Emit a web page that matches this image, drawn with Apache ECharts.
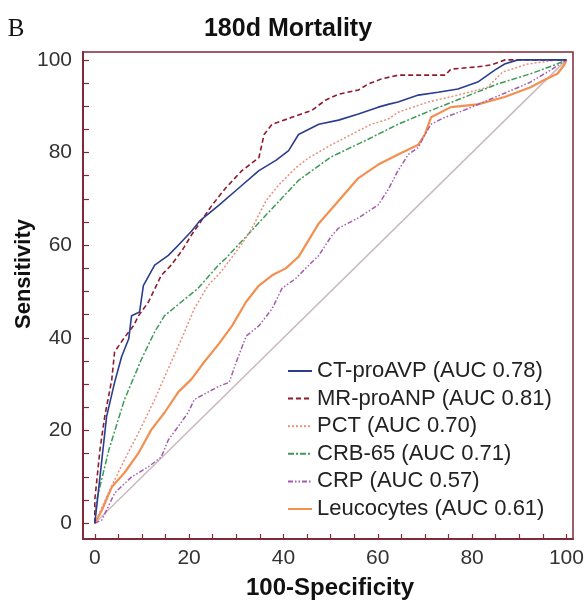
<!DOCTYPE html>
<html>
<head>
<meta charset="utf-8">
<script src="https://cdn.jsdelivr.net/npm/echarts@6/dist/echarts.min.js"></script>
<style>html,body{margin:0;padding:0;background:#fff;}#c{width:588px;height:601px;}</style>
</head>
<body>
<div id="c"></div>
<script>
// ---- data ----
const seriesNames = ['CT-proAVP (AUC 0.78)','MR-proANP (AUC 0.81)','PCT (AUC 0.70)','CRB-65 (AUC 0.71)','CRP (AUC 0.57)','Leucocytes (AUC 0.61)'];
const xTickLabels = [0,20,40,60,80,100];
const yTickLabels = [0,20,40,60,80,100];
const tickValues = [0,5,10,15,20,25,30,35,40,45,50,55,60,65,70,75,80,85,90,95,100];

const ctX = [0,0.4,2.5,4.2,5.7,7.2,7.8,9.5,10.3,12.7,15.6,17.7,20.5,22.2,26.4,30.6,34.8,38.4,41.1,43.2,47.5,51.7,55.9,60.1,62.2,64.3,68.6,72.8,77,81.2,83.3,84.8,86.9,89.7,100];
const ctY = [0,3.5,23,30.4,36,39.8,44.8,45.6,51.3,55.7,57.8,60,63,65.2,68.7,72.4,76.1,78.3,80.4,83.9,86.1,87,88.3,89.8,90.4,90.9,92.4,93,93.7,95.2,96.7,97.8,99.1,100,100];

const mrX = [0,0,1.1,2.1,3.6,4.2,6.1,7.2,8.2,9.3,11.4,14.1,16.2,18.4,20.5,24.9,27.8,31.2,34.8,35.9,37.6,41.8,46,48.9,51.7,55.9,58,60.8,64.3,74.3,75.5,81.2,84,87,100];
const mrY = [0,5,15.9,23,31,37,39.8,41.3,42.6,44.8,47.8,53.5,55.7,58.7,62.2,68.7,72.4,76.1,78.9,83.9,86.1,87.6,89.1,91.3,92.6,93.5,94.8,95.9,96.7,96.7,98,98.5,98.9,100,100];

const pctX = [0,3.2,6.3,9.3,12.7,15.8,18.4,21.1,24,26.8,31,33,36.3,39,42.6,45.4,50.2,54.4,58.6,62.2,64.3,70.7,77,83.3,86.5,91.8,98.1,100];
const pctY = [0,7.2,13.7,19.6,26.7,33.9,39.8,46.3,51.3,54.3,60,63,69.6,73,76.7,78.9,81.7,83.9,86.1,87.2,88.7,90.9,92.4,94.1,97.4,99.1,100,100];

const crbX = [0,0.4,3,6.3,9.9,12.7,14.8,18.4,21.9,26.2,27.8,36.3,43.2,50,57.4,64.3,71.3,78.5,85.4,92.4,97.5,100];
const crbY = [0,5,15.9,26.7,35.4,41.3,44.8,47.8,50.7,55.7,57.2,66.5,74,79,82.6,86.1,89.1,92,94.8,97,98.9,100];

const crpX = [0,1.5,4.2,7.8,11.4,14.1,15.6,17.7,19.8,21.1,24,26.4,28.5,30,32.1,34.8,37.6,39.7,42.6,44.7,47.5,50.2,51.7,55.9,60.1,62.2,64.3,66.5,68.6,70,71.3,74,78,85,92,97,100];
const crpY = [0,0.7,6.5,10,12.2,14.3,18,20.9,23.9,26.7,28.3,29.6,30.4,34.8,40.4,42.6,46.3,50.7,52.8,55,57.8,62,63.7,65.9,68.7,72,76.1,79.6,81.1,83.9,86.1,87.5,89,92,95,98,100];

const leuX = [0,1.5,3.6,6.3,9.3,12,14.8,17.7,20.5,23.2,26.3,29.1,32.1,34.8,37.6,40.5,43.2,47.5,51.7,55.9,60.1,64.3,68.6,70,71.3,75.5,81.2,86.9,92.4,95.4,98.1,99.6,100];
const leuY = [0,2.8,7.8,10.9,15.2,20.2,23.9,28.3,31.1,34.8,38.7,42.6,47.8,51.3,53.5,55,57.5,64.7,69.6,74.5,77.4,79.6,81.7,83.9,87.6,89.8,90.4,92,94.1,95.7,97,99,100];

const refX = [0,100];
const refY = [0,100];

// ---- build ----
const pairs = (xs, ys) => xs.map((x, i) => [x, ys[i]]);
const FONT = '"Liberation Sans", Arial, sans-serif';
const FRAME = '#7e2a3a';

const styles = [
  {color:'#2c3c8e', width:1.6, type:'solid'},
  {color:'#8e1b2e', width:1.6, type:[5,3]},
  {color:'#e8907e', width:1.5, type:[2,2]},
  {color:'#3d9a58', width:1.5, type:[6,2,2,2]},
  {color:'#a45cae', width:1.5, type:[5,2,1.5,2,1.5,2]},
  {color:'#f3904f', width:2.2, type:'solid'}
];
const dataSets = [pairs(ctX,ctY), pairs(mrX,mrY), pairs(pctX,pctY), pairs(crbX,crbY), pairs(crpX,crpY), pairs(leuX,leuY)];

const series = [{
  name:'ref', type:'line', data: pairs(refX, refY), symbol:'none', silent:true,
  lineStyle:{color:'#cbb9bd', width:1.5}, z:1
}];
seriesNames.forEach((n, i) => {
  series.push({
    name:n, type:'line', data:dataSets[i], symbol:'none',
    lineStyle:{color:styles[i].color, width:styles[i].width, type:styles[i].type},
    itemStyle:{color:styles[i].color}, z: 10 - i
  });
});

const chart = echarts.init(document.getElementById('c'), null, {renderer:'canvas'});
chart.setOption({
  animation:false,
  grid:{left:83, right:15, top:52, bottom:62, show:true, borderColor:FRAME, borderWidth:1.5},
  xAxis:{
    type:'value', min:-2.5, max:101.4, position:'bottom', splitLine:{show:false},
    axisLine:{show:true, onZero:false, lineStyle:{color:FRAME, width:1.8}},
    axisTick:{show:true, inside:true, length:5, customValues:tickValues, lineStyle:{color:FRAME, width:1.2}},
    axisLabel:{customValues:xTickLabels, fontSize:21, color:'#333', fontFamily:FONT, margin:9}
  },
  yAxis:{
    type:'value', min:-3.4, max:101.7, position:'left', splitLine:{show:false},
    axisLine:{show:true, onZero:false, lineStyle:{color:FRAME, width:2}},
    axisTick:{show:true, inside:true, length:6, customValues:tickValues, lineStyle:{color:FRAME, width:1.2}},
    axisLabel:{customValues:yTickLabels, fontSize:21, color:'#333', fontFamily:FONT, margin:11}
  },
  legend:{
    data:seriesNames, orient:'vertical', left:282, top:355,
    itemWidth:24, itemHeight:14, itemGap:5.6,
    itemStyle:{color:'rgba(0,0,0,0)', borderColor:'rgba(0,0,0,0)', borderWidth:0},
    textStyle:{fontSize:22, lineHeight:22, color:'#222', fontFamily:FONT}
  },
  graphic:[
    {type:'text', style:{text:'B', x:16, y:29, fontSize:25, fontFamily:'"Liberation Serif", "Times New Roman", serif', fill:'#111', align:'center', verticalAlign:'middle'}},
    {type:'text', style:{text:'180d Mortality', x:288, y:29, fontSize:25, fontWeight:'bold', fontFamily:FONT, fill:'#111', align:'center', verticalAlign:'middle'}},
    {type:'text', style:{text:'100-Specificity', x:330, y:588, fontSize:24, fontWeight:'bold', fontFamily:FONT, fill:'#111', align:'center', verticalAlign:'middle'}},
    {type:'text', x:24, y:274, rotation:Math.PI/2, style:{text:'Sensitivity', x:0, y:0, fontSize:22, fontWeight:'bold', fontFamily:FONT, fill:'#111', align:'center', verticalAlign:'middle'}}
  ],
  series: series
});
</script>
</body>
</html>
